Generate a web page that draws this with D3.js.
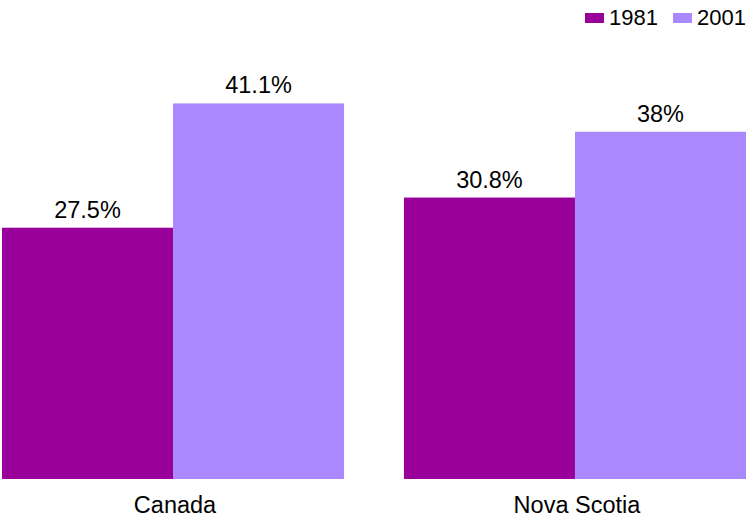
<!DOCTYPE html>
<html>
<head>
<meta charset="utf-8">
<script src="https://cdn.jsdelivr.net/npm/d3@7"></script>
<style>
  body { margin: 0; background: #fff; }
  text { font-family: "Liberation Sans", Arial, sans-serif; fill: #000; }
</style>
</head>
<body>
<div id="chart"></div>
<script>
// setting up constants
const FRAME_WIDTH = 748;
const FRAME_HEIGHT = 519;
const BASELINE = 479;

// data
const regions = ["Canada", "Nova Scotia"];
const years = ["1981", "2001"];
const values1981 = [27.5, 30.8];
const values2001 = [41.1, 38];
const valueLabels1981 = ["27.5%", "30.8%"];
const valueLabels2001 = ["41.1%", "38%"];
const colors = ["#990099", "#aa88ff"];

const rows = regions.map((r, i) => ({
    region: r,
    bars: [
        {year: years[0], value: values1981[i], label: valueLabels1981[i]},
        {year: years[1], value: values2001[i], label: valueLabels2001[i]}
    ]
}));

const FRAME = d3.select("#chart")
    .append("svg")
    .attr("width", FRAME_WIDTH)
    .attr("height", FRAME_HEIGHT);

// scales
const xScale = d3.scaleBand()
    .domain(regions)
    .range([2, 746])
    .paddingInner(0.149)
    .paddingOuter(0);

const xInner = d3.scaleBand()
    .domain(years)
    .range([0, xScale.bandwidth()]);

const yScale = d3.scaleLinear()
    .domain([0, 50])
    .range([BASELINE, BASELINE - 50 * 9.138]);

const color = d3.scaleOrdinal().domain(years).range(colors);

// bars
const groups = FRAME.selectAll(".group")
    .data(rows)
    .enter()
    .append("g")
    .attr("class", "group")
    .attr("transform", d => "translate(" + xScale(d.region) + ",0)");

groups.selectAll("rect")
    .data(d => d.bars)
    .enter()
    .append("rect")
    .attr("x", d => xInner(d.year))
    .attr("y", d => yScale(d.value))
    .attr("width", xInner.bandwidth())
    .attr("height", d => yScale(0) - yScale(d.value))
    .attr("fill", d => color(d.year));

// value labels
groups.selectAll(".val")
    .data(d => d.bars)
    .enter()
    .append("text")
    .attr("class", "val")
    .attr("x", d => xInner(d.year) + xInner.bandwidth() / 2)
    .attr("y", d => yScale(d.value) - 10)
    .attr("text-anchor", "middle")
    .attr("font-size", "23.5px")
    .text(d => d.label);

// category axis labels
FRAME.selectAll(".cat")
    .data(regions)
    .enter()
    .append("text")
    .attr("class", "cat")
    .attr("x", d => xScale(d) + xScale.bandwidth() / 2 + 2)
    .attr("y", 513)
    .attr("text-anchor", "middle")
    .attr("font-size", "23.5px")
    .text(d => d);

// legend
const legendX = [585, 673];
const legend = FRAME.selectAll(".legend")
    .data(years)
    .enter()
    .append("g")
    .attr("class", "legend")
    .attr("transform", (d, i) => "translate(" + legendX[i] + ",0)");

legend.append("rect")
    .attr("x", 0)
    .attr("y", 13)
    .attr("width", 19)
    .attr("height", 10)
    .attr("fill", d => color(d));

legend.append("text")
    .attr("x", 24)
    .attr("y", 25)
    .attr("font-size", "22px")
    .text(d => d);
</script>
</body>
</html>
